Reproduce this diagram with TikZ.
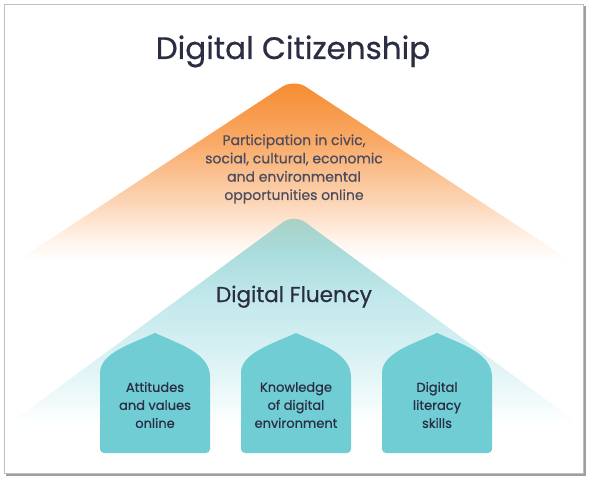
\documentclass[tikz,border=0pt]{standalone}
\usepackage{fontspec}
\setmainfont{Poppins}[FakeBold=0.6]
\usetikzlibrary{calc}
\usepackage{xcolor}

\definecolor{navy}{HTML}{2B2D42}
\definecolor{citizen}{HTML}{F58A2E}
\definecolor{citizenmid}{HTML}{F9A966}
\definecolor{citizenpale}{HTML}{FCD3B2}
\definecolor{citizenlow}{HTML}{FFF3EA}
\definecolor{fluenttop}{HTML}{A9CFC3}
\definecolor{fluentup}{HTML}{A9DCDC}
\definecolor{fluentmid}{HTML}{C2E8EB}
\definecolor{fluentpale}{HTML}{D6F0F2}
\definecolor{fluentlow}{HTML}{F0FAFB}
\definecolor{pillar}{HTML}{6FCDD3}

% fades to white at the foot of each triangle
\pgfdeclareverticalshading{citizenfade}{100bp}{color(0bp)=(white); color(25bp)=(white);
  color(31bp)=(citizenlow); color(42bp)=(citizenpale); color(58bp)=(citizenmid);
  color(75bp)=(citizen); color(100bp)=(citizen)}
\pgfdeclareverticalshading{fluentfade}{100bp}{color(0bp)=(white); color(25bp)=(white);
  color(31bp)=(fluentlow); color(43bp)=(fluentpale); color(55bp)=(fluentmid);
  color(66bp)=(fluentup); color(75bp)=(fluenttop); color(100bp)=(fluenttop)}

\begin{document}
\begin{tikzpicture}[x=1pt,y=-1pt,
    heading/.style={text=navy,anchor=base},
    pillartext/.style={align=center,text=navy,font=\fontsize{13}{18}\selectfont}]
      \useasboundingbox (0,0) rectangle (589,484);
      \fill[white] (0,0) rectangle (589,484);

      % Citizenship triangle
      \coordinate (CTop) at (294,79);
      \shade[shading=citizenfade,rounded corners=14pt]
        ($(CTop)+(-277,182)$) -- (CTop) -- ($(CTop)+(277,182)$) -- cycle;

      % Fluency triangle
      \coordinate (FTop) at (294,214);
      \shade[shading=fluentfade,rounded corners=14pt]
        ($(FTop)+(-285,210)$) -- (FTop) -- ($(FTop)+(285,210)$) -- cycle;

      % Titles
      \node[heading,font=\fontsize{31}{37}\selectfont] (citizenship) at (293,59) {Digital Citizenship};
      \node[align=center,text=navy!85,font=\fontsize{14}{18.3}\selectfont] (participation) at (294,169)
        {Participation in civic,\\social, cultural, economic\\and environmental\\opportunities online};
      \node[heading,font=\fontsize{21.5}{26}\selectfont] (fluency) at (294,302) {Digital Fluency};

      % Pillars
      \foreach \cx/\name/\txt in {155/att/{Attitudes\\and values\\online},
                                  296/know/{Knowledge\\of digital\\environment},
                                  437/lit/{Digital\\literacy\\skills}}
      {
        \coordinate (P\name) at (\cx,453);
        \fill[pillar] (P\name) [rounded corners=4pt] -- ($(P\name)+(-55,0)$) -- ($(P\name)+(-55,-76)$)
          [sharp corners] .. controls ($(P\name)+(-55,-100)$) and ($(P\name)+(-24,-109)$) .. ($(P\name)+(0,-120)$)
          .. controls ($(P\name)+(24,-109)$) and ($(P\name)+(55,-100)$) .. ($(P\name)+(55,-76)$)
          [rounded corners=4pt] -- ($(P\name)+(55,0)$) -- cycle;
        \node[pillartext] (\name) at ($(P\name)+(0,-48)$) {\txt};
      }

      % Frame
      \draw[gray!75,line width=2pt] (585,6) -- (585,475) -- (6,475);
      \draw[gray!50,line width=1pt] (4.5,4.5) rectangle (583,473);
\end{tikzpicture}
\end{document}
